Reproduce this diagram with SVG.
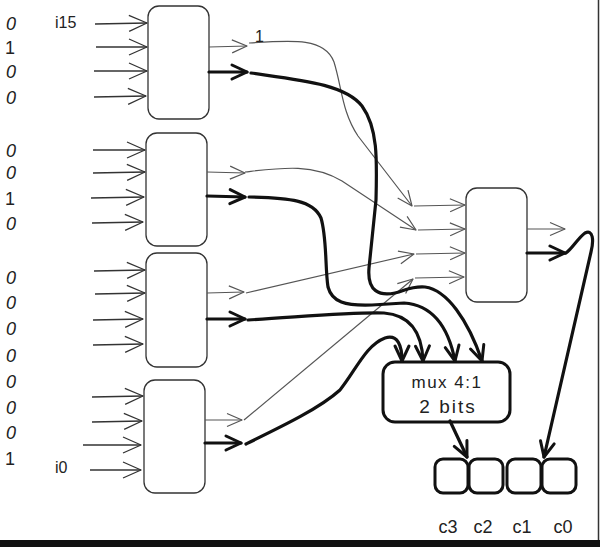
<svg xmlns="http://www.w3.org/2000/svg" width="600" height="547" viewBox="0 0 600 547">
  <style>
    .bg { fill: #ffffff; }
    .blk { fill: #ffffff; stroke: #333; stroke-width: 1.3; }
    .blk-b { fill: #ffffff; stroke: #111; stroke-width: 3; }
    .in { fill: none; stroke: #333; stroke-width: 1.3; marker-end: url(#headIn); }
    .thin { fill: none; stroke: #555; stroke-width: 1.2; }
    .thin-a { fill: none; stroke: #555; stroke-width: 1.2; marker-end: url(#headThin); }
    .thick { fill: none; stroke: #111; stroke-width: 3.2; stroke-linecap: round; }
    .thick-a { fill: none; stroke: #111; stroke-width: 3.2; stroke-linecap: round; marker-end: url(#headThick); }
    .bit { font-family: "Liberation Sans", "DejaVu Sans", sans-serif; font-size: 18px; fill: #222; text-anchor: middle; }
    .z { font-style: italic; }
    .lbl { font-family: "Liberation Sans", "DejaVu Sans", sans-serif; font-size: 16px; fill: #222; }
    .mux { font-family: "Liberation Sans", "DejaVu Sans", sans-serif; fill: #222; text-anchor: middle; }
    .cl { font-family: "Liberation Sans", "DejaVu Sans", sans-serif; font-size: 18px; fill: #222; text-anchor: middle; }
  </style>
  <defs>
    <marker id="headIn" markerUnits="userSpaceOnUse" markerWidth="20" markerHeight="20" refX="0" refY="0" orient="auto" overflow="visible">
      <path d="M-18,-8 L0,0 L-18,8" fill="none" stroke="#333" stroke-width="1.3" stroke-linejoin="round"/>
    </marker>
    <marker id="headThin" markerUnits="userSpaceOnUse" markerWidth="20" markerHeight="20" refX="0" refY="0" orient="auto" overflow="visible">
      <path d="M-15,-6.5 L0,0 L-15,6.5" fill="none" stroke="#555" stroke-width="1.2" stroke-linejoin="round"/>
    </marker>
    <marker id="headThick" markerUnits="userSpaceOnUse" markerWidth="20" markerHeight="20" refX="0" refY="0" orient="auto" overflow="visible">
      <path d="M-15,-7 L0,0 L-15,7" fill="none" stroke="#111" stroke-width="3" stroke-linecap="round" stroke-linejoin="round"/>
    </marker>
  </defs>

  <rect class="bg" x="0" y="0" width="600" height="547"/>

  <!-- frame edges -->
  <line x1="598.5" y1="0" x2="598.5" y2="541" stroke="#333" stroke-width="1.5"/>
  <rect x="0" y="540" width="600" height="7" fill="#111"/>

  <!-- input bit values -->
  <g id="bits">
    <text class="bit z" x="11" y="30">0</text>
    <text class="bit" x="10" y="54">1</text>
    <text class="bit z" x="11" y="78">0</text>
    <text class="bit z" x="11" y="104">0</text>
    <text class="bit z" x="11" y="157">0</text>
    <text class="bit z" x="11" y="179">0</text>
    <text class="bit" x="10" y="205">1</text>
    <text class="bit z" x="11" y="230">0</text>
    <text class="bit z" x="11" y="284">0</text>
    <text class="bit z" x="11" y="309">0</text>
    <text class="bit z" x="11" y="335">0</text>
    <text class="bit z" x="11" y="362">0</text>
    <text class="bit z" x="11" y="388">0</text>
    <text class="bit z" x="11" y="414">0</text>
    <text class="bit z" x="11" y="439">0</text>
    <text class="bit" x="10" y="465">1</text>
  </g>
  <g id="input-names">
    <text class="lbl" x="55" y="28">i15</text>
    <text class="lbl" x="55" y="473">i0</text>
  </g>

  <!-- first-stage blocks -->
  <g id="enc3"><rect class="blk" x="148" y="6" width="61" height="113" rx="11"/></g>
  <g id="enc2"><rect class="blk" x="146" y="133" width="61" height="113" rx="11"/></g>
  <g id="enc1"><rect class="blk" x="146" y="253" width="61" height="114" rx="11"/></g>
  <g id="enc0"><rect class="blk" x="144" y="380" width="61" height="113" rx="11"/></g>

  <!-- second-stage block -->
  <g id="enc-top"><rect class="blk" x="466" y="188" width="61" height="114" rx="11"/></g>

  <!-- multiplexer -->
  <g id="mux">
    <rect class="blk-b" x="383" y="362" width="127" height="60" rx="12"/>
    <text class="mux" x="447" y="388" font-size="17" letter-spacing="1.5">mux 4:1</text>
    <text class="mux" x="448" y="413" font-size="19" letter-spacing="2">2 bits</text>
  </g>

  <!-- output code cells -->
  <g id="c3"><rect class="blk-b" x="435" y="459" width="33" height="34" rx="8"/><text class="cl" x="448" y="533">c3</text></g>
  <g id="c2"><rect class="blk-b" x="469" y="459" width="34" height="34" rx="8"/><text class="cl" x="483" y="533">c2</text></g>
  <g id="c1"><rect class="blk-b" x="507" y="459" width="34" height="34" rx="8"/><text class="cl" x="522" y="533">c1</text></g>
  <g id="c0"><rect class="blk-b" x="542" y="459" width="34" height="34" rx="8"/><text class="cl" x="563" y="533">c0</text></g>

  <g id="connectors">
    <!-- inputs into first-stage blocks -->
    <path class="in" d="M95,24 L147,23"/>
    <path class="in" d="M96,47 L147,47"/>
    <path class="in" d="M94,71 L147,71"/>
    <path class="in" d="M94,97 L146,96"/>

    <path class="in" d="M93,150 L145,150"/>
    <path class="in" d="M93,173 L145,172"/>
    <path class="in" d="M91,198 L144,197"/>
    <path class="in" d="M92,223 L143,222"/>

    <path class="in" d="M94,271 L145,270"/>
    <path class="in" d="M95,294 L145,293"/>
    <path class="in" d="M93,320 L143,319"/>
    <path class="in" d="M93,345 L143,344"/>

    <path class="in" d="M92,397 L143,396"/>
    <path class="in" d="M92,422 L142,421"/>
    <path class="in" d="M83,445 L141,445"/>
    <path class="in" d="M90,470 L141,470"/>

    <!-- block outputs -->
    <path class="thin-a" d="M209,47 L247,46"/>
    <path class="thick-a" d="M209,72 L247,72"/>
    <path class="thin-a" d="M207,172 L245,173"/>
    <path class="thick-a" d="M207,196 L245,197"/>
    <path class="thin-a" d="M207,293 L244,292"/>
    <path class="thick-a" d="M207,319 L245,319"/>
    <path class="thin-a" d="M205,420 L242,420"/>
    <path class="thick-a" d="M205,443 L241,443"/>

    <!-- high bits to the second stage -->
    <path class="thin-a" d="M249,43 C295,40 325,38 334,62 C342,88 342,112 358,136 L412,206"/>
    <text class="lbl" x="255" y="42" font-size="15">1</text>
    <path class="thin-a" d="M245,172 C280,168 312,163 342,181 L416,230"/>
    <path class="thin-a" d="M246,293 L414,254"/>
    <path class="thin-a" d="M244,420 L413,279"/>

    <!-- second-stage inputs -->
    <path class="thin-a" d="M414,206 L465,205"/>
    <path class="thin-a" d="M418,230 L465,229"/>
    <path class="thin-a" d="M416,254 L465,253"/>
    <path class="thin-a" d="M415,278 L464,277"/>

    <!-- low bits into the multiplexer -->
    <path class="thick-a" d="M251,73 C300,80 345,84 362,106 C378,128 377,160 376,200 L369,268 C367,292 380,296 395,293 C405,291 410,286 425,287 C447,290 468,320 482,361"/>
    <path class="thick-a" d="M249,197 C290,198 313,200 321,218 C327,238 325,268 328,287 C332,302 345,306 372,305 L404,303 C432,305 448,325 455,361"/>
    <path class="thick-a" d="M248,320 C300,317 350,312 384,313 C410,315 422,332 423,361"/>
    <path class="thick-a" d="M246,444 C285,425 320,408 340,390 C356,370 366,345 385,338 C398,334 402,346 402,361"/>

    <!-- multiplexer to c3/c2 -->
    <path class="thick-a" d="M450,421 L467,457"/>

    <!-- second-stage outputs -->
    <path class="thin-a" d="M527,229 L565,229"/>
    <path class="thick-a" d="M527,253 L565,253"/>
    <path class="thick-a" d="M566,253 C572,249 578,238 585,233 C593,229 594,240 591,252 L544,457"/>
  </g>
</svg>
